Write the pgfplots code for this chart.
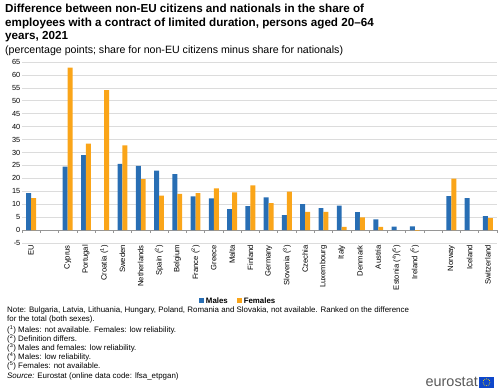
\documentclass[border=0pt]{standalone}
\usepackage{fontspec}
\setmainfont{Liberation Sans}
\usepackage{pgfplots}
\pgfplotsset{compat=1.18}
\usetikzlibrary{calc}
\definecolor{mblue}{RGB}{40,110,180}
\definecolor{forange}{RGB}{250,165,25}
\definecolor{gridgray}{RGB}{220,220,220}
\definecolor{zerogray}{RGB}{150,150,150}
\definecolor{eublue}{RGB}{14,71,203}
\definecolor{euyellow}{RGB}{255,221,0}
\begin{document}
\begin{tikzpicture}
\path[use as bounding box] (0,0) rectangle (500bp,389bp);
\node[anchor=north west, align=left, inner sep=0pt, font=\bfseries\fontsize{11.7}{13.6}\selectfont] at (5bp,385bp)
{Difference between non-EU citizens and nationals in the share of\\employees with a contract of limited duration, persons aged 20--64\\years, 2021};
\node[anchor=north west, align=left, inner sep=0pt, font=\fontsize{10.65}{12}\selectfont] at (5bp,343bp)
{(percentage points; share for non-EU citizens minus share for nationals)};
\begin{axis}[
  at={(22bp,146bp)}, anchor=south west,
  width=475bp, height=181bp, scale only axis,
  ybar=0pt, bar width=0.27,
  xmin=-0.5, xmax=25.5, ymin=-5, ymax=65,
  ytick={-5,0,...,65},
  xtick={0,...,25},
  xticklabels={EU,{},Cyprus,Portugal,Croatia (\textsuperscript{1}),Sweden,Netherlands,Spain (\textsuperscript{2}),Belgium,France (\textsuperscript{2}),Greece,Malta,Finland,Germany,Slovenia (\textsuperscript{3}),Czechia,Luxembourg,Italy,Denmark,Austria,Estonia (\textsuperscript{4})(\textsuperscript{5}),Ireland (\textsuperscript{5}),{},Norway,Iceland,Switzerland},
  xticklabel style={rotate=90, anchor=east, font=\fontsize{7.7}{8}\selectfont, inner sep=2pt},
  yticklabel style={font=\fontsize{7.4}{8}\selectfont, inner sep=1.5pt},
  /pgf/number format/assume math mode=true,
  major tick length=0pt,
  axis line style={draw=none},
  ymajorgrids, grid style={gridgray, line width=0.6pt},
  extra y ticks={0}, extra y tick labels={},
  extra y tick style={grid style={zerogray, line width=0.8pt}},
  legend style={at={(0.455,-0.32)}, anchor=center, draw=none, fill=none,
    font=\bfseries\fontsize{7.9}{9}\selectfont, legend columns=2,
    /tikz/every even column/.append style={column sep=7bp}},
  clip=false,
]
\addplot[fill=mblue, draw=none, legend image code/.code={\fill[mblue] (0bp,-2.5bp) rectangle (5bp,2.5bp);}] coordinates {
(0,14.3) (2,24.5) (3,29.0) (5,25.6) (6,24.8) (7,23.0) (8,21.6) (9,13.0) (10,12.3) (11,8.1) (12,9.3)
(13,12.6) (14,5.8) (15,10.0) (16,8.5) (17,9.5) (18,6.9) (19,4.1) (20,1.3) (21,1.4) (23,13.1) (24,12.4) (25,5.4)};
\addlegendentry{Males}
\addplot[fill=forange, draw=none, legend image code/.code={\fill[forange] (0bp,-2.5bp) rectangle (5bp,2.5bp);}] coordinates {
(0,12.4) (2,62.8) (3,33.4) (4,54.1) (5,32.8) (6,19.7) (7,13.3) (8,14.0) (9,14.3) (10,16.1) (11,14.6) (12,17.3)
(13,10.4) (14,14.9) (15,7.0) (16,7.0) (17,1.2) (18,4.9) (19,1.2) (21,-0.2) (23,19.9) (25,4.6)};
\addlegendentry{Females}
\pgfplotsinvokeforeach{-0.5,0.5,...,25.5}{\draw[zerogray, line width=0.6pt] (axis cs:#1,0) -- (axis cs:#1,-1);}
\end{axis}
\node[anchor=north west, align=left, inner sep=0pt, font=\fontsize{7.95}{9}\selectfont] at (7bp,82bp)
{Note: Bulgaria, Latvia, Lithuania, Hungary, Poland, Romania and Slovakia, not available. Ranked on the difference\\
for the total (both sexes).\\[1.8bp]
(\textsuperscript{1}) Males: not available. Females: low reliability.\\
(\textsuperscript{2}) Definition differs.\\
(\textsuperscript{3}) Males and females: low reliability.\\
(\textsuperscript{4}) Males: low reliability.\\
(\textsuperscript{5}) Females: not available.\\[0.5bp]
\textit{Source:} Eurostat (online data code: lfsa\_etpgan)};
\node[anchor=east, inner sep=0pt, text=black!65, font=\fontsize{14.5}{15}\selectfont] at (478bp,7bp) {eurostat};
\fill[eublue] (479bp,1.5bp) rectangle (494bp,12bp);
\foreach \a in {0,30,...,330} {\fill[euyellow] ($(486.5bp,6.75bp)+(\a:3.3bp)$) circle (0.5bp);}
\end{tikzpicture}
\end{document}
